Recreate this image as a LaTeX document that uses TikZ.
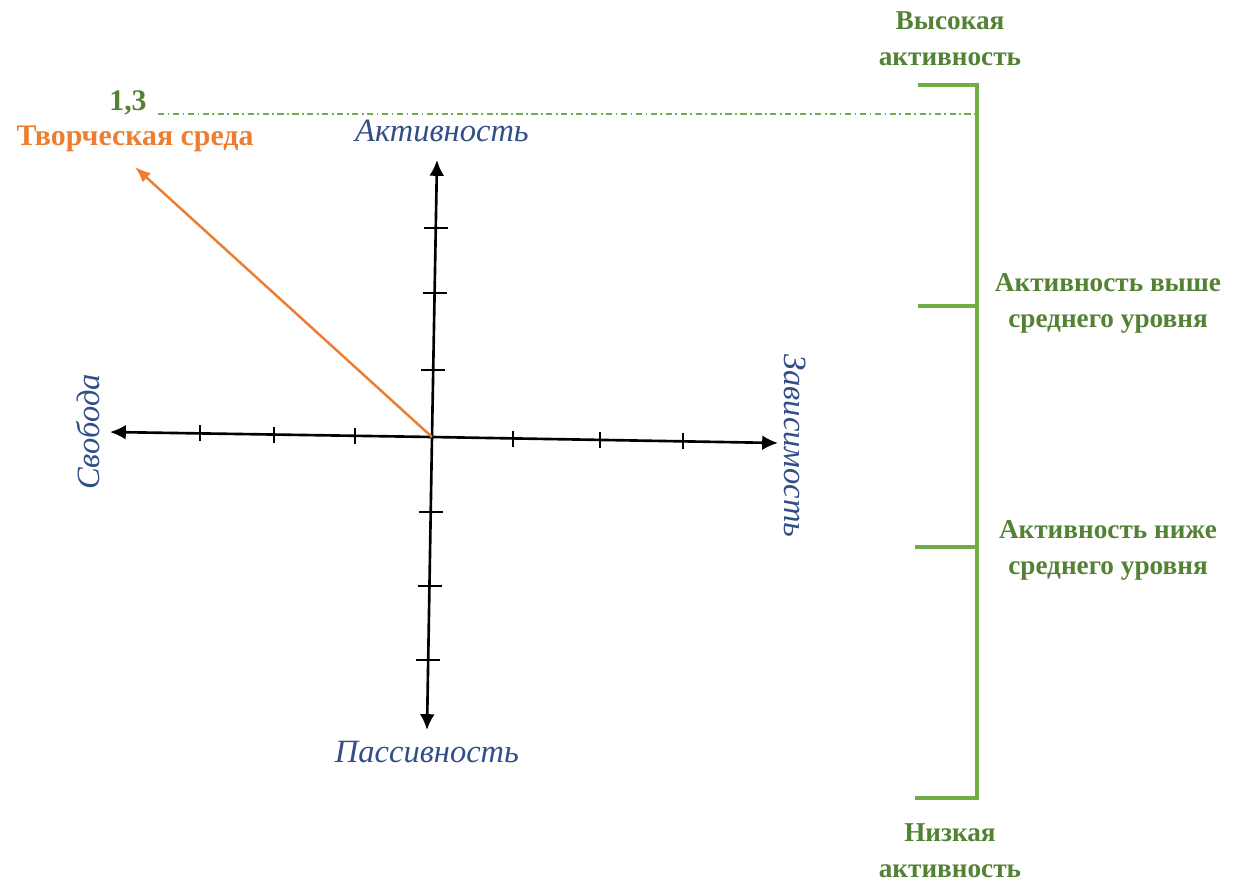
\documentclass[tikz,border=0pt]{standalone}
\usepackage{fontspec}
\setmainfont{Liberation Serif}
\usetikzlibrary{arrows.meta,calc}
\definecolor{lvlgreen}{RGB}{84,130,53}
\definecolor{brgreen}{RGB}{112,173,71}
\definecolor{envorange}{RGB}{237,125,49}
\definecolor{axblue}{RGB}{50,78,135}
\tikzset{
	axis/.style={line width=1.5pt, -{Latex[length=9pt,width=8.5pt]}},
	axlabel/.style={text=axblue, font=\itshape\fontsize{18.5}{22}\selectfont},
	lvl/.style={text=lvlgreen, font=\bfseries\fontsize{15.5}{20.5}\selectfont, align=center},
}
\begin{document}
\begin{tikzpicture}[x=0.02cm,y=-0.02cm]
		\useasboundingbox (0,0) rectangle (1242,882);

		\coordinate (O) at (432,437);
		\coordinate (L) at (110,432);
		\coordinate (R) at (778,443);
		\coordinate (T) at (437,160);
		\coordinate (B) at (427,730);

		\draw[axis] (O) -- (L);
		\draw[axis] (O) -- (R);
		\draw[axis] (O) -- (T);
		\draw[axis] (O) -- (B);

		\foreach \x in {200,274,355,513,600,683}
			\draw[line width=0.8pt] ($(L)!{(\x-110)/668}!(R)$) ++(0,-8) -- ++(0,16);
		\foreach \y in {228,293,370,512,586,660}
			\draw[line width=0.8pt] ($(B)!{(730-\y)/570}!(T)$) ++(-12,0) -- ++(24,0);

		\node[axlabel] (act) at (442,131) {Активность};
		\node[axlabel] (pas) at (427,752) {Пассивность};
		\node[axlabel, rotate=90] (svo) at (88,432) {Свобода};
		\node[axlabel, rotate=-90] (zav) at (795,446) {Зависимость};

		\coordinate (E) at (135,167);
		\draw[envorange, line width=1.4pt, -{Latex[length=9pt,width=7pt]}] (O) -- (E);
		\node[text=envorange, font=\bfseries\fontsize{17}{20}\selectfont] (env) at (135,139) {Творческая среда};

		\node[text=lvlgreen, font=\bfseries\fontsize{17}{20}\selectfont] (val) at (128,103) {1,3};
		\coordinate (dl) at (975,114);
		\draw[brgreen, line width=0.7pt, dash pattern=on 3.5pt off 2pt on 1pt off 2pt] (158,114) -- (dl);

		\draw[brgreen, line width=1.8pt] (918,85) -- (977,85) -- (977,798) -- (915,798);
		\draw[brgreen, line width=1.8pt] (918,306) -- (977,306);
		\draw[brgreen, line width=1.8pt] (915,547) -- (977,547);

		\node[lvl] (hi) at (950,39) {Высокая\\активность};
		\node[lvl] (ab) at (1108,303) {Активность выше\\среднего уровня};
		\node[lvl] (be) at (1108,550) {Активность ниже\\среднего уровня};
		\node[lvl] (lo) at (950,851) {Низкая\\активность};
	\end{tikzpicture}
\end{document}
